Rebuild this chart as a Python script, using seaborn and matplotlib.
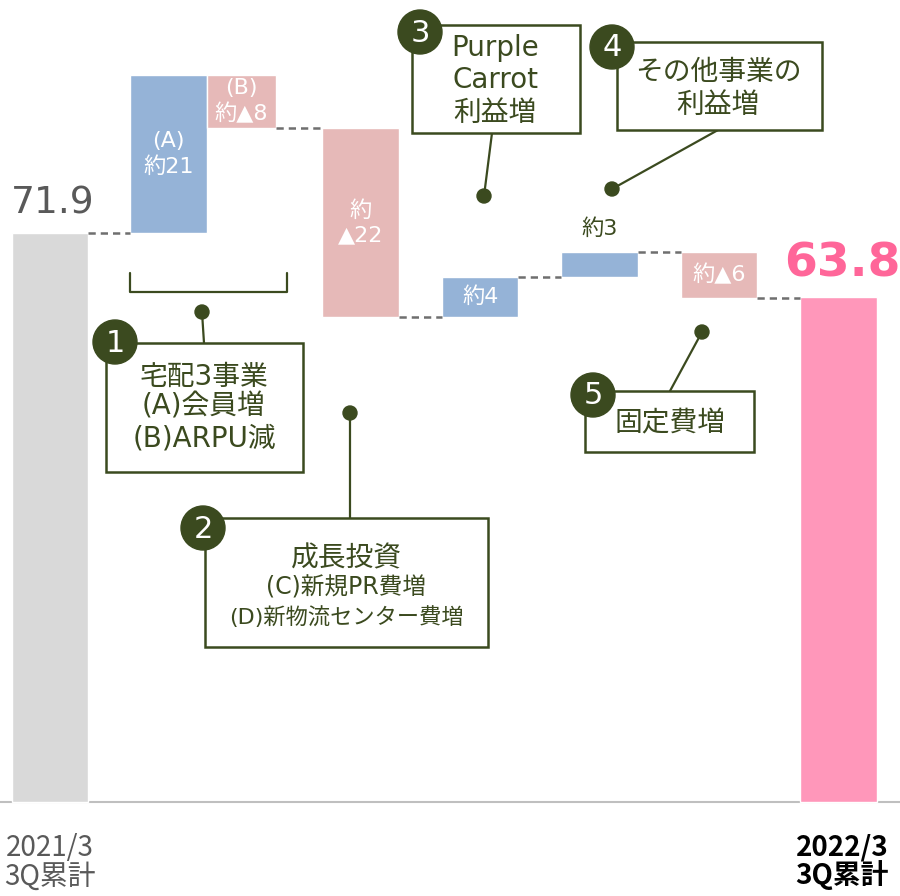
import matplotlib.pyplot as plt
import seaborn as sns
from matplotlib.patches import Rectangle, Circle

# values (億円)
start_label = "2021/3\n3Q累計"
end_label = "2022/3\n3Q累計"
start_value = 71.9
end_value = 63.8
step_names = ["(A)会員増", "(B)ARPU減", "成長投資", "Purple Carrot", "その他事業", "固定費"]
step_deltas = [20.0, -6.7, -23.9, 5.1, 3.1, -5.8]
step_texts = ["(A)\n約21", "(B)\n約▲8", "約\n▲22", "約4", "約3", "約▲6"]

sns.set_theme(style="white")
plt.rcParams['font.family'] = ['DejaVu Sans', 'Noto Sans CJK JP']

OLIVE = "#3b4a1f"
GREY = "#d9d9d9"
BLUE = "#95b3d7"
PINK = "#e6b9b8"
HOT = "#ff97ba"

fig = plt.figure(figsize=(9, 8.96), dpi=100)
ax = fig.add_axes([0, 0, 1, 1])
ax.set_xlim(-0.418, 7.113)
ax.set_ylim(-11.88, 101.34)
ax.axis("off")

# layout of the bars (A and B sit side by side)
xs = [0, 0.99, 1.6, 2.6, 3.6, 4.6, 5.6, 6.6]
widths = [0.64, 0.64, 0.58, 0.64, 0.64, 0.64, 0.64, 0.64]

ax.axhline(0, color="#bfbfbf", lw=1.5, zorder=1)

# start bar
ax.bar(xs[0], start_value, width=widths[0], color=GREY, zorder=2)
ax.text(xs[0] + 0.02, start_value + 2.4, f"{start_value}", ha="center", va="baseline",
        fontsize=27, color="#595959")

level = start_value
levels = [level]
for i, d in enumerate(step_deltas):
    k = i + 1
    bottom = min(level, level + d)
    col = BLUE if d > 0 else PINK
    ax.bar(xs[k], abs(d), bottom=bottom, width=widths[k], color=col, zorder=2)
    if abs(d) < 4:
        ax.text(xs[k], bottom + abs(d) + 1.6, step_texts[i], ha="center", va="bottom",
                fontsize=16, color=OLIVE, zorder=4)
    else:
        ax.text(xs[k], bottom + abs(d) / 2, step_texts[i], ha="center", va="center",
                fontsize=16, color="white", linespacing=1.28, zorder=4)
    level += d
    levels.append(level)

# end bar
ax.bar(xs[-1], end_value, width=widths[-1], color=HOT, zorder=2)
ax.text(xs[-1] + 0.03, end_value + 2.65, f"{end_value}", ha="center", va="baseline",
        fontsize=34, fontweight="bold", color="#ff6699")

# dashed connectors
for k in range(len(xs) - 1):
    x0 = xs[k] + widths[k] / 2
    x1 = xs[k + 1] - widths[k + 1] / 2
    if x1 - x0 > 0.02:
        ax.plot([x0, x1], [levels[k], levels[k]], color="#6f6f6f", lw=1.8,
                dashes=(2.9, 2.0), zorder=3)

# category labels
ax.text(xs[0], -7.6, start_label, ha="center", va="center", fontsize=20,
        color="#595959", family=['Noto Sans CJK JP'], linespacing=0.93)
ax.text(xs[-1] + 0.03, -7.6, end_label, ha="center", va="center", fontsize=20,
        color="black", fontweight="bold", family=['Noto Sans CJK JP'], linespacing=0.93)

# callouts in pixel coordinates
ov = fig.add_axes([0, 0, 1, 1])
ov.set_xlim(0, 900)
ov.set_ylim(896, 0)
ov.axis("off")


def box(x0, y0, x1, y1):
    ov.add_patch(Rectangle((x0, y0), x1 - x0, y1 - y0, facecolor="white",
                           edgecolor=OLIVE, lw=1.8, zorder=3))


def badge(x, y, n):
    ov.add_patch(Circle((x, y), 22, color=OLIVE, zorder=5))
    ov.text(x, y + 1, n, ha="center", va="center", fontsize=22, color="white", zorder=6)


def leader(p0, p1):
    ov.plot([p0[0], p1[0]], [p0[1], p1[1]], color=OLIVE, lw=1.6, zorder=2)
    ov.add_patch(Circle(p1, 7, color=OLIVE, zorder=4))


def lines(x, ys, texts, sizes):
    for y, t, s in zip(ys, texts, sizes):
        ov.text(x, y, t, ha="center", va="center", fontsize=s, color=OLIVE, zorder=4)


# 1
ov.plot([130, 130, 287, 287], [273, 292, 292, 273], color=OLIVE, lw=1.6)
leader((204, 343), (202, 312))
box(106, 343, 303, 472)
badge(115, 342, "1")
lines(204, [377, 407, 438], ["宅配3事業", "(A)会員増", "(B)ARPU減"], [20, 20, 20])

# 2
leader((350, 518), (350, 413))
box(205, 518, 488, 647)
badge(203, 528, "2")
lines(346, [558, 588, 617], ["成長投資", "(C)新規PR費増", "(D)新物流センター費増"], [20, 17, 16])

# 3
leader((492, 133), (484, 196))
box(412, 25, 580, 133)
badge(420, 32, "3")
lines(495, [48, 80, 113], ["Purple", "Carrot", "利益増"], [20, 20, 20])

# 4
leader((718, 130), (612, 189))
box(617, 42, 822, 130)
badge(612, 47, "4")
lines(718, [72, 105], ["その他事業の", "利益増"], [20, 20])

# 5
leader((670, 391), (702, 332))
box(585, 391, 754, 452)
badge(593, 395, "5")
lines(670, [423], ["固定費増"], [20])

plt.savefig("out.png", dpi=100)
